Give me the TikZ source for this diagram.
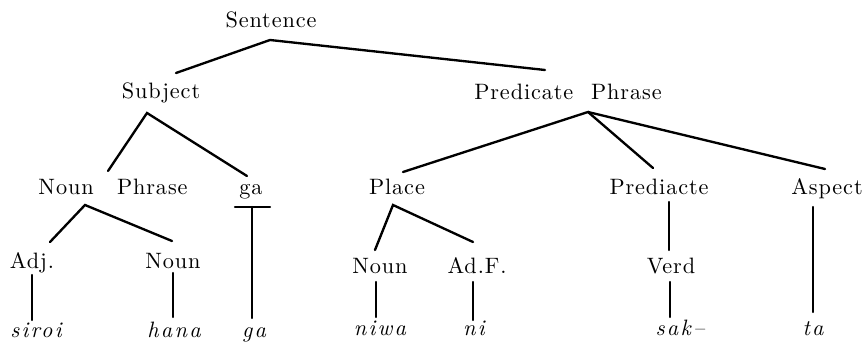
\documentclass[tikz,border=0pt]{standalone}
\usepackage{fontspec}
\setmainfont{lmroman10}[Extension=.otf, UprightFont=*-regular, ItalicFont=*-italic, LetterSpace=4]
\usepackage{tikz}

\begin{document}
\begin{tikzpicture}[
    x=0.03cm, y=-0.03cm,
    cat/.style={inner sep=0pt, anchor=base, font=\fontsize{19}{22}\selectfont},
    word/.style={inner sep=0pt, anchor=base, font=\fontsize{19}{22}\selectfont\itshape\addfontfeatures{LetterSpace=10}},
    branch/.style={line width=2pt, line cap=round}
]
    \useasboundingbox (0,0) rectangle (866,344);

    \node [cat] (sent) at (271,28) {Sentence};
    \node [cat] (subj) at (161,99) {Subject};
    \node [cat] (pred) at (568,100) {Predicate\hspace{0.8em}Phrase};

    \node [cat] (np) at (113,195) {Noun\hspace{1.05em}Phrase};
    \node [cat] (gaa) at (251,195) {ga};
    \node [cat] (place) at (397,195) {Place};
    \node [cat] (prd) at (659,195) {Prediacte};
    \node [cat] (asp) at (827,195) {Aspect};

    \node [cat] (adj) at (32,268) {Adj.};
    \node [cat] (noun1) at (173,268) {Noun};
    \node [cat] (noun2) at (380,273) {Noun};
    \node [cat] (adf) at (477,273) {Ad.F.};
    \node [cat] (verd) at (671,273) {Verd};

    \node [word] (siroi) at (36,337) {siroi};
    \node [word] (hana) at (174,337) {hana};
    \node [word] (gab) at (254,337) {ga};
    \node [word] (niwa) at (380,335) {niwa};
    \node [word] (ni) at (474,335) {ni};
    \node [word] (sak) at (680,335) {sak–};
    \node [word] (ta) at (813,335) {ta};

    \draw [branch] ([shift={(15,-26)}]subj.base) -- ([shift={(-1,12)}]sent.base) -- ([shift={(-23,-30)}]pred.base);
    \draw [branch] ([shift={(-5,-24)}]np.base) -- ([shift={(-14,14)}]subj.base) -- ([shift={(-4,-19)}]gaa.base);
    \draw [branch] ([shift={(6,-23)}]place.base) -- ([shift={(20,12)}]pred.base) -- ([shift={(-6,-27)}]prd.base);
    \draw [branch] ([shift={(20,12)}]pred.base) -- ([shift={(-2,-26)}]asp.base);
    \draw [branch] ([shift={(18,-26)}]adj.base) -- ([shift={(-28,10)}]np.base) -- ([shift={(-1,-27)}]noun1.base);
    \draw [branch] ([shift={(-5,-23)}]noun2.base) -- ([shift={(-4,10)}]place.base) -- ([shift={(-4,-31)}]adf.base);

    \draw [branch] ([shift={(-16,12)}]gaa.base) -- ([shift={(19,12)}]gaa.base);
    \draw [branch] ([shift={(1,12)}]gaa.base) -- ([shift={(-2,-19)}]gab.base);
    \draw [branch] ([shift={(10,7)}]prd.base) -- ([shift={(-2,-23)}]verd.base);
    \draw [branch] ([shift={(-14,12)}]asp.base) -- ([shift={(0,-23)}]ta.base);

    \draw [branch] ([shift={(0,7)}]adj.base) -- ([shift={(-4,-17)}]siroi.base);
    \draw [branch] ([shift={(0,5)}]noun1.base) -- ([shift={(-1,-20)}]hana.base);
    \draw [branch] ([shift={(-4,9)}]noun2.base) -- ([shift={(-4,-18)}]niwa.base);
    \draw [branch] ([shift={(-4,9)}]adf.base) -- ([shift={(-1,-15)}]ni.base);
    \draw [branch] ([shift={(-1,9)}]verd.base) -- ([shift={(-10,-18)}]sak.base);
\end{tikzpicture}
\end{document}
